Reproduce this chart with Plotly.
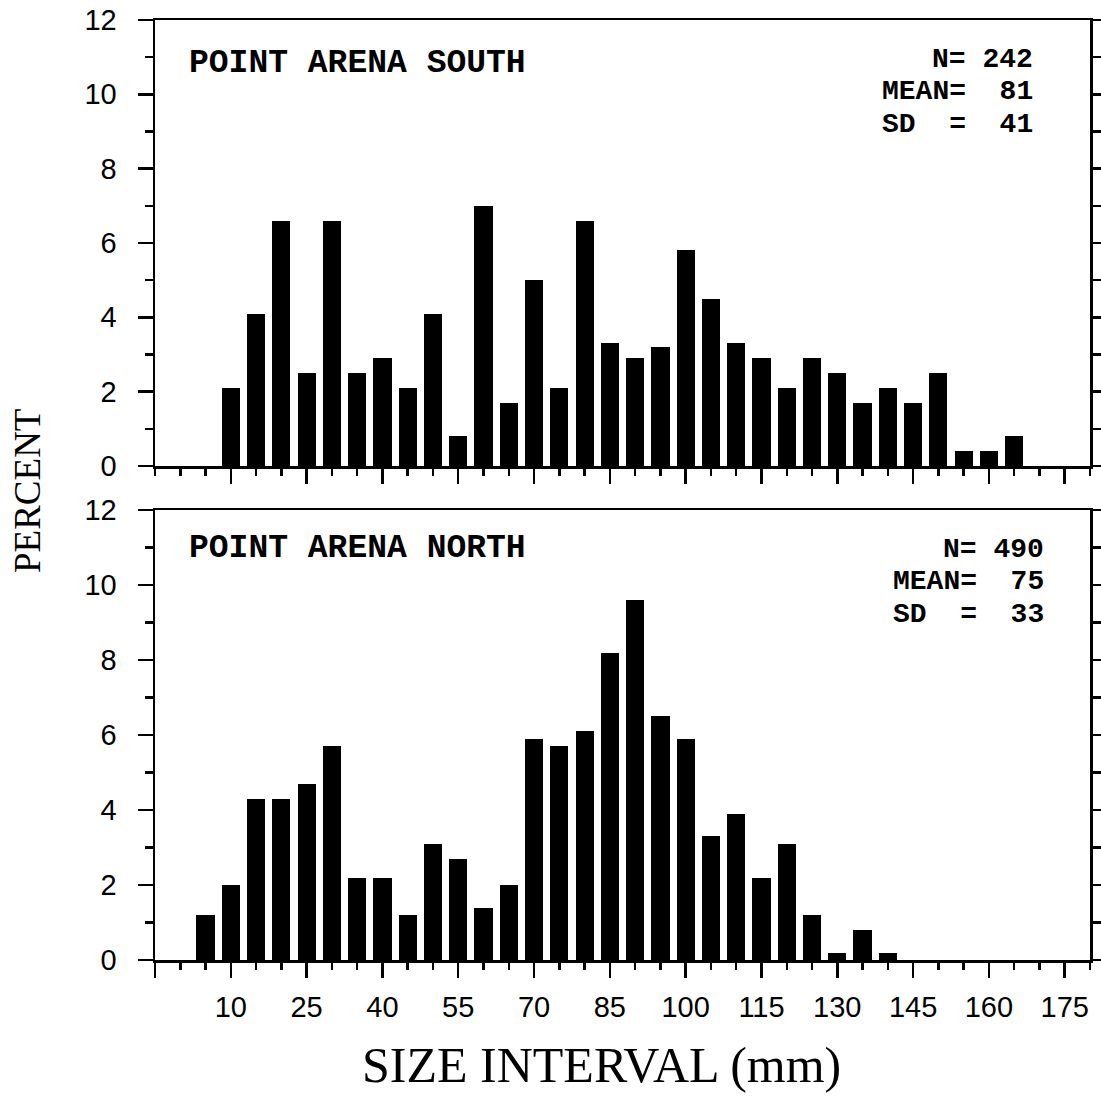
import plotly.graph_objects as go

# ---- data ----
south_sizes = [10, 15, 20, 25, 30, 35, 40, 45, 50, 55, 60, 65, 70, 75, 80, 85,
               90, 95, 100, 105, 110, 115, 120, 125, 130, 135, 140, 145, 150, 155, 160, 165]
south_pct = [2.1, 4.1, 6.6, 2.5, 6.6, 2.5, 2.9, 2.1, 4.1, 0.8, 7.0, 1.7, 5.0, 2.1, 6.6, 3.3,
             2.9, 3.2, 5.8, 4.5, 3.3, 2.9, 2.1, 2.9, 2.5, 1.7, 2.1, 1.7, 2.5, 0.4, 0.4, 0.8]

north_sizes = [5, 10, 15, 20, 25, 30, 35, 40, 45, 50, 55, 60, 65, 70, 75, 80,
               85, 90, 95, 100, 105, 110, 115, 120, 125, 130, 135, 140]
north_pct = [1.2, 2.0, 4.3, 4.3, 4.7, 5.7, 2.2, 2.2, 1.2, 3.1, 2.7, 1.4, 2.0, 5.9, 5.7, 6.1,
             8.2, 9.6, 6.5, 5.9, 3.3, 3.9, 2.2, 3.1, 1.2, 0.2, 0.8, 0.2]

x_tickvals = [-5, 10, 25, 40, 55, 70, 85, 100, 115, 130, 145, 160, 175]
x_ticktext = ["", "10", "25", "40", "55", "70", "85", "100", "115", "130", "145", "160", "175"]
y_tickvals = [0, 2, 4, 6, 8, 10, 12]
y_ticktext = ["0", "2", "4", "6", "8", "10", "12"]

south_title = "POINT ARENA SOUTH"
north_title = "POINT ARENA NORTH"
south_stats = ["N= 242", "MEAN=  81", "SD  =  41"]
north_stats = ["N= 490", "MEAN=  75", "SD  =  33"]

# ---- layout helpers (body margin removed -> figure pixels == page pixels) ----
W = H = 1101


def px_x(p):
    return p / W


def px_y(p):
    return 1 - p / H


# ---- figure ----
fig = go.Figure()
fig.add_trace(go.Bar(x=south_sizes, y=south_pct, width=3.6, marker=dict(color="black", line=dict(width=0)),
                     xaxis="x2", yaxis="y2", showlegend=False))
fig.add_trace(go.Bar(x=north_sizes, y=north_pct, width=3.6, marker=dict(color="black", line=dict(width=0)),
                     xaxis="x", yaxis="y", showlegend=False))

tickfont = dict(family="Liberation Sans, Arial, sans-serif", size=29, color="black")
common_x = dict(range=[-5, 180], tickmode="array", tickvals=x_tickvals, ticktext=x_ticktext,
                ticks="outside", ticklen=15, tickwidth=2.5, tickcolor="black",
                minor=dict(tickmode="linear", tick0=0, dtick=5, ticks="outside", ticklen=7,
                           tickwidth=2.5, tickcolor="black"),
                showline=True, linewidth=2.5, linecolor="black", mirror=True,
                showgrid=False, zeroline=False, tickfont=tickfont, ticklabelstandoff=5,
                ticklabeloverflow="allow", automargin=False, fixedrange=True)
common_y = dict(range=[0, 12], tickmode="array", tickvals=y_tickvals, ticktext=y_ticktext,
                ticks="outside", ticklen=15, tickwidth=2.5, tickcolor="black",
                minor=dict(tickmode="linear", tick0=0, dtick=1, ticks="outside", ticklen=8,
                           tickwidth=2.5, tickcolor="black"),
                showline=True, linewidth=2.5, linecolor="black", mirror="allticks",
                showgrid=False, zeroline=False, tickfont=tickfont, ticklabelstandoff=15,
                ticklabeloverflow="allow", automargin=False, fixedrange=True)

xdom = [px_x(155), px_x(1090)]
fig.update_layout(
    width=W, height=H,
    margin=dict(l=0, r=0, t=0, b=0),
    paper_bgcolor="white", plot_bgcolor="white",
    bargap=0,
    xaxis=dict(domain=xdom, anchor="y", showticklabels=True, **common_x),
    yaxis=dict(domain=[px_y(960), px_y(510)], anchor="x", **common_y),
    xaxis2=dict(domain=xdom, anchor="y2", showticklabels=False, **common_x),
    yaxis2=dict(domain=[px_y(466), px_y(20)], anchor="x2", **common_y),
)

title_font = dict(family="Liberation Mono, Courier New, monospace", size=33, color="black", weight="bold")
stats_font = dict(family="Liberation Mono, Courier New, monospace", size=28, color="black", weight="bold")

ann = []
ann.append(dict(text=south_title, xref="x2 domain", yref="y2 domain", x=0.034, y=0.903,
                xanchor="left", yanchor="middle", showarrow=False, font=title_font))
ann.append(dict(text=north_title, xref="x domain", yref="y domain", x=0.034, y=0.914,
                xanchor="left", yanchor="middle", showarrow=False, font=title_font))
for txt, yy in zip(south_stats, [0.912, 0.840, 0.766]):
    ann.append(dict(text=txt.replace(" ", "&nbsp;"), xref="x2 domain", yref="y2 domain", x=0.940, y=yy,
                    xanchor="right", yanchor="middle", showarrow=False, font=stats_font, borderpad=0))
for txt, yy in zip(north_stats, [0.913, 0.841, 0.767]):
    ann.append(dict(text=txt.replace(" ", "&nbsp;"), xref="x domain", yref="y domain", x=0.952, y=yy,
                    xanchor="right", yanchor="middle", showarrow=False, font=stats_font, borderpad=0))
ann.append(dict(text="PERCENT", xref="paper", yref="paper", x=px_x(27), y=px_y(491),
                xanchor="center", yanchor="middle", textangle=-90, showarrow=False,
                font=dict(family="Liberation Serif, Times New Roman, serif", size=37, color="black")))
ann.append(dict(text="SIZE INTERVAL (mm)", xref="paper", yref="paper", x=px_x(601), y=px_y(1065),
                xanchor="center", yanchor="middle", showarrow=False,
                font=dict(family="Liberation Serif, Times New Roman, serif", size=50, color="black")))
fig.update_layout(annotations=ann)

fig.write_html("out.html", config={"displayModeBar": False, "staticPlot": True},
               post_script="document.body.style.margin='0';document.body.style.overflow='hidden';")
